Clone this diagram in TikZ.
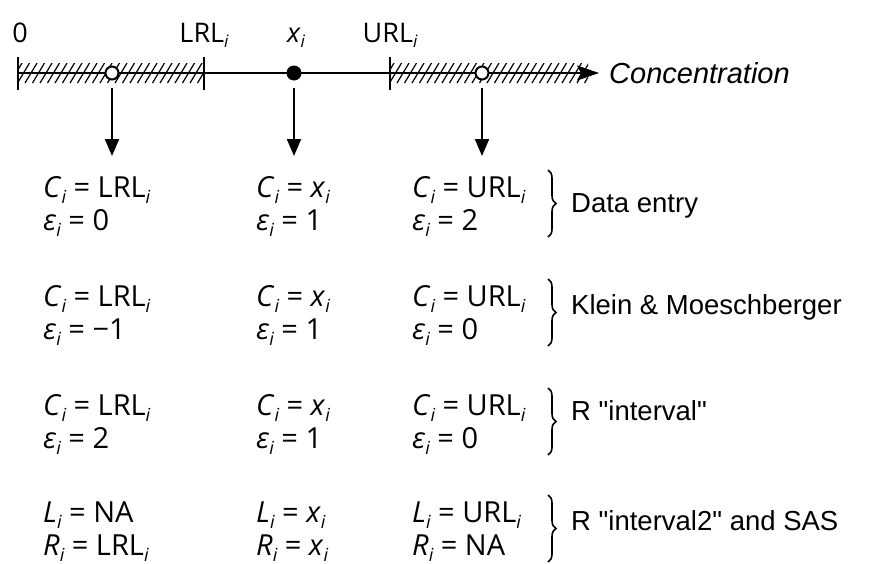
\documentclass[tikz,border=0pt]{standalone}
\usepackage{fontspec}
\setmainfont{Open Sans}
\newfontfamily\arialf{Liberation Sans}
\usetikzlibrary{arrows.meta,decorations.pathreplacing}
\newcommand\subi{\raisebox{-6pt}{\fontsize{18}{18}\selectfont\itshape i}}
\newcommand\subs{\raisebox{-5pt}{\fontsize{17}{17}\selectfont\itshape i}}
\tikzset{
  txt/.style={inner sep=0pt,anchor=base west,font=\fontsize{29}{33}\selectfont},
  toplbl/.style={inner sep=0pt,anchor=base,font=\fontsize{27}{30}\selectfont},
  grp/.style={inner sep=0pt,anchor=base west,font=\arialf\fontsize{27.5}{30}\selectfont},
  tickln/.style={line width=2.5pt},
  axisln/.style={line width=2pt,-{Stealth[length=22pt,width=15pt,inset=4pt]}},
  arr/.style={line width=2pt,-{Triangle[length=17pt,width=14pt]}},
  opendot/.style={circle,draw,line width=2pt,fill=white,minimum size=13pt,inner sep=0pt},
  fulldot/.style={circle,fill=black,minimum size=15pt,inner sep=0pt},
  brc/.style={line width=1.6pt,decorate,decoration={brace,amplitude=8pt,aspect=0.5}},
  hatchln/.style={line width=1.2pt}
}
\begin{document}
\begin{tikzpicture}[x=1pt,y=-1pt]
\useasboundingbox (0,0) rectangle (870,563);
% hatching
\begin{scope}
\clip (18,63) rectangle (204,83);
\foreach \k in {0,...,30} { \draw[hatchln] (10+7.5*\k,83) -- (22+7.5*\k,63); }
\end{scope}
\begin{scope}
\clip (390,63) rectangle (588,83);
\foreach \k in {0,...,30} { \draw[hatchln] (382+7.5*\k,83) -- (394+7.5*\k,63); }
\end{scope}
% axis
\coordinate (o) at (18,73);
\coordinate (axend) at (599,73);
\draw[axisln] (o) -- (axend);
\coordinate (t0a) at (18,57); \coordinate (t0b) at (18,90);
\coordinate (t1a) at (204,57); \coordinate (t1b) at (204,90);
\coordinate (t2a) at (390,57); \coordinate (t2b) at (390,90);
\draw[tickln] (t0a) -- (t0b);
\draw[tickln] (t1a) -- (t1b);
\draw[tickln] (t2a) -- (t2b);
\node[opendot] (p1) at (112,73) {};
\node[fulldot] (p2) at (294,73) {};
\node[opendot] (p3) at (482,73) {};
% top labels
\node[toplbl] (l0) at (20,42) {0};
\node[toplbl] (l1) at (204,42) {LRL\subs};
\node[toplbl] (l2) at (296,42) {\textit{x}\subs};
\node[toplbl] (l3) at (390,42) {URL\subs};
\node[grp,font=\arialf\itshape\fontsize{29}{32}\selectfont] (conc) at (609,83) {Concentration};
% arrows
\coordinate (s1) at (112,88); \coordinate (e1) at (112,156);
\coordinate (s2) at (294,88); \coordinate (e2) at (294,156);
\coordinate (s3) at (482,88); \coordinate (e3) at (482,156);
\draw[arr] (s1) -- (e1);
\draw[arr] (s2) -- (e2);
\draw[arr] (s3) -- (e3);
% rows
\foreach \b/\lo/\na/\ea/\nb/\eb/\nc/\ec/\lab/\id in {
  197/15/{\textit{C}\subi\ = LRL\subi}/{\textit{ε}\subi\ = 0}/{\textit{C}\subi\ = \textit{x}\subi}/{\textit{ε}\subi\ = 1}/{\textit{C}\subi\ = URL\subi}/{\textit{ε}\subi\ = 2}/{Data entry}/1,
  306/8/{\textit{C}\subi\ = LRL\subi}/{\textit{ε}\subi\ = −1}/{\textit{C}\subi\ = \textit{x}\subi}/{\textit{ε}\subi\ = 1}/{\textit{C}\subi\ = URL\subi}/{\textit{ε}\subi\ = 0}/{Klein \& Moeschberger}/2,
  415/5/{\textit{C}\subi\ = LRL\subi}/{\textit{ε}\subi\ = 2}/{\textit{C}\subi\ = \textit{x}\subi}/{\textit{ε}\subi\ = 1}/{\textit{C}\subi\ = URL\subi}/{\textit{ε}\subi\ = 0}/{R "interval"}/3,
  522/8/{\textit{L}\subi\ = NA}/{\textit{R}\subi\ = LRL\subi}/{\textit{L}\subi\ = \textit{x}\subi}/{\textit{R}\subi\ = \textit{x}\subi}/{\textit{L}\subi\ = URL\subi}/{\textit{R}\subi\ = NA}/{R "interval2" and SAS}/4}
{
  \node[txt] (a\id) at (43,\b) {\na};
  \node[txt] (aa\id) at (43,\b+33) {\ea};
  \node[txt] (b\id) at (256,\b) {\nb};
  \node[txt] (bb\id) at (256,\b+33) {\eb};
  \node[txt] (c\id) at (412,\b) {\nc};
  \node[txt] (cc\id) at (412,\b+33) {\ec};
  \coordinate (bt\id) at (548,\b-27);
  \coordinate (bm\id) at (548,\b+40);
  \draw[brc] (bt\id) -- (bm\id);
  \node[grp] (g\id) at (571,\b+\lo) {\lab};
}
\end{tikzpicture}
\end{document}
